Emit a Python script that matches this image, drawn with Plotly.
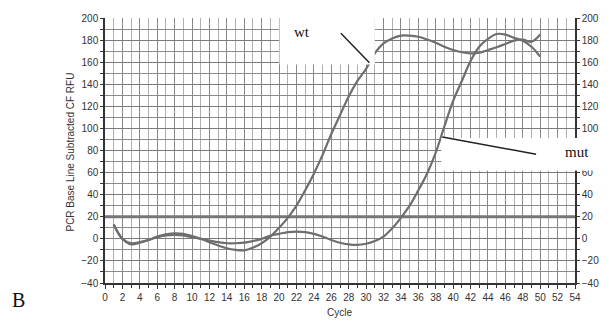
import plotly.graph_objects as go

cycles = list(range(1, 51))
wt = [13, 0, -5, -3.5, -1, 2, 4, 5, 4.5, 2.5,
      0, -3, -6, -8.5, -10, -10.5, -8, -4, 2, 10,
      19, 30, 44, 59, 76, 95, 112, 129, 143, 154,
      168, 177, 181.5, 184, 184, 183, 180.5, 177.5, 174, 171,
      169, 168, 168.5, 171, 173.5, 176.5, 179.5, 180.5, 178.5, 185]
mut = [13, 0, -4, -3, -1, 1.5, 3, 3.5, 3, 1.5,
       0, -1.5, -3, -4, -4, -3.5, -2, 0, 3, 4.5,
       6, 6.5, 6, 4.5, 2, -1, -3.5, -5, -5.5, -4.5,
       -2, 2, 9.5, 19, 30, 44, 59, 78, 102, 125,
       143, 161, 174, 181, 185.5, 185, 182, 179.5, 174, 165]
threshold = 20
x_ticks = list(range(0, 55, 2))
y_ticks = list(range(-40, 201, 20))
y_ticks_right = [v for v in y_ticks if v != 80]  # 80 is covered by the "mut" label box

fig = go.Figure()
fig.add_trace(go.Scatter(x=[0, 54], y=[threshold, threshold], mode="lines",
                         line=dict(color="#777777", width=3), hoverinfo="skip"))
fig.add_trace(go.Scatter(x=cycles, y=mut, mode="lines", line_shape="spline",
                         line=dict(color="#6e6e6e", width=2.2), hoverinfo="skip"))
fig.add_trace(go.Scatter(x=cycles, y=wt, mode="lines", line_shape="spline",
                         line=dict(color="#6e6e6e", width=2.2), hoverinfo="skip"))
fig.add_trace(go.Scatter(x=cycles, y=wt, mode="lines", yaxis="y2",
                         line=dict(color="rgba(0,0,0,0)", width=0), hoverinfo="skip"))

tickfont = dict(family="Liberation Sans, Arial, sans-serif", size=10, color="#333333")
yaxis_common = dict(range=[-40, 200], ticks="outside", ticklen=3,
                    tickcolor="#333", tickfont=tickfont, showline=True, linecolor="#333",
                    linewidth=1.5, zeroline=False,
                    minor=dict(dtick=10, ticks="outside", ticklen=3, tickcolor="#333",
                               showgrid=True, gridcolor="#8a8a8a", gridwidth=1))

lbl = dict(family="Liberation Sans, Arial, sans-serif", size=10, color="#333")
serif = "Liberation Serif, Times New Roman, serif"

fig.update_layout(
    width=611, height=326,
    margin=dict(l=105, r=35, t=13, b=43),
    paper_bgcolor="white", plot_bgcolor="white",
    showlegend=False,
    xaxis=dict(range=[0, 54], tickvals=x_ticks, ticks="outside", ticklen=4,
               tickcolor="#333", tickfont=tickfont, showline=True, linecolor="#333",
               linewidth=1.5, zeroline=False, showgrid=True, gridcolor="#888888",
               gridwidth=1.3,
               minor=dict(dtick=1, ticks="outside", ticklen=3, tickcolor="#333",
                          showgrid=True, gridcolor="#b0b0b0", gridwidth=1)),
    yaxis=dict(**yaxis_common, tickvals=y_ticks, showgrid=True, gridcolor="#7a7a7a",
               gridwidth=1.2),
    yaxis2=dict(**yaxis_common, tickvals=y_ticks_right, overlaying="y", side="right",
                showgrid=False),
    shapes=[
        dict(type="rect", xref="x", yref="y", x0=20.05, x1=31.0, y0=158, y1=215,
             fillcolor="white", line=dict(width=0), layer="above"),
        dict(type="rect", xref="paper", yref="y", x0=38.64 / 54, x1=1.2, y0=62, y1=91.3,
             fillcolor="white", line=dict(width=0), layer="above"),
        dict(type="line", xref="x", yref="y", x0=27.1, y0=186.1, x1=30.38, y1=159.5,
             line=dict(color="#222222", width=1.5), layer="above"),
        dict(type="line", xref="x", yref="y", x0=38.75, y0=92.2, x1=49.53, y1=76.6,
             line=dict(color="#222222", width=1.5), layer="above"),
    ],
    annotations=[
        dict(text="PCR Base Line Subtracted CF RFU", xref="paper", yref="paper",
             x=(70 - 105) / 471, y=1 - (150 - 13) / 270, textangle=-90, showarrow=False,
             xanchor="center", yanchor="middle", font=lbl),
        dict(text="Cycle", xref="paper", yref="paper", x=(340 - 105) / 471,
             y=1 - (313 - 13) / 270, showarrow=False, xanchor="center", yanchor="middle",
             font=lbl),
        dict(text="wt", xref="paper", yref="paper", x=(302 - 105) / 471,
             y=1 - (27 - 13) / 270, showarrow=False, xanchor="center", yanchor="middle",
             font=dict(family=serif, size=15, color="#111")),
        dict(text="mut", xref="paper", yref="paper", x=(578 - 105) / 471,
             y=1 - (150 - 13) / 270, showarrow=False, xanchor="center", yanchor="middle",
             font=dict(family=serif, size=15, color="#111")),
        dict(text="B", xref="paper", yref="paper", x=(18 - 105) / 471,
             y=1 - (300 - 13) / 270, showarrow=False, xanchor="center", yanchor="middle",
             font=dict(family=serif, size=20, color="#111")),
    ],
)

fig.write_html("out.html", config={"displayModeBar": False},
               post_script="document.body.style.margin='0';")
